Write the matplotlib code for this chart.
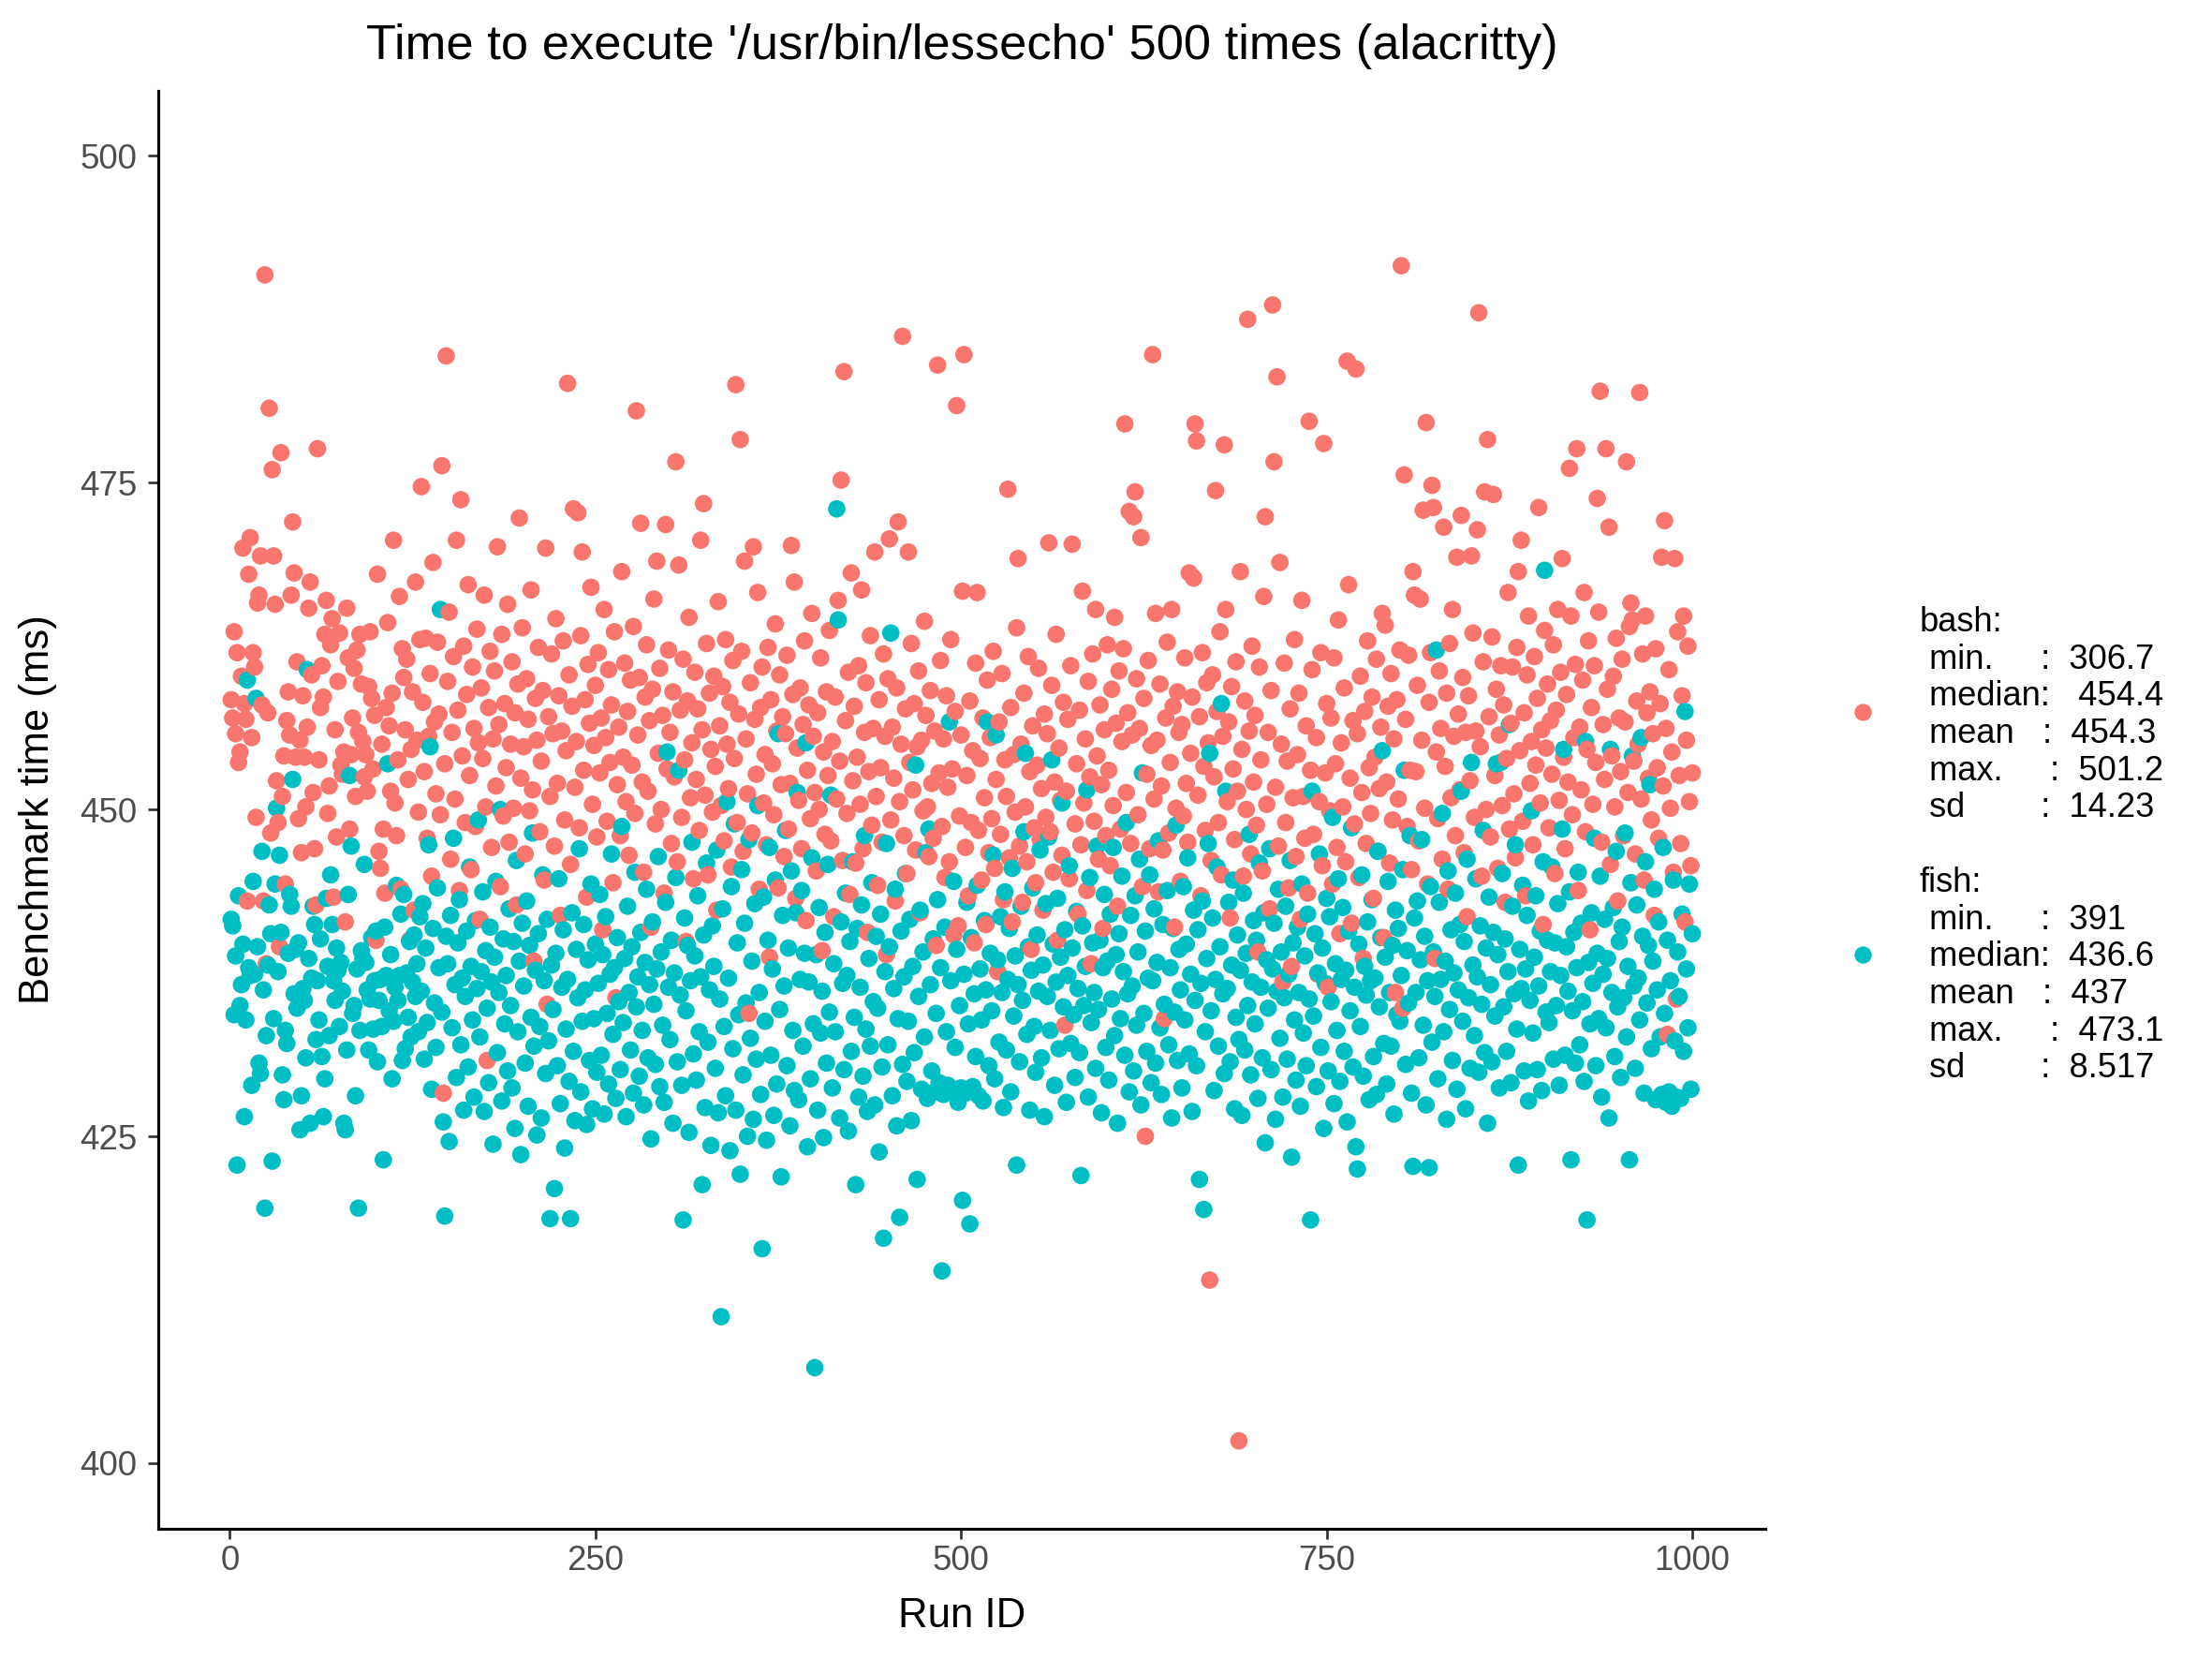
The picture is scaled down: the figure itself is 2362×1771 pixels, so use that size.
import numpy as np
import matplotlib
matplotlib.use("Agg")
import matplotlib.pyplot as plt
from matplotlib.lines import Line2D

plt.rcParams['font.family'] = ['Liberation Sans', 'DejaVu Sans']

# benchmark results, ms, one value per run id
bash_ms = [
    458.4, 457.0, 463.6, 455.8, 462.0, 453.6, 454.4, 460.2, 470.0, 458.1,
    456.9, 443.0, 468.0, 470.8, 455.5, 462.0, 460.9, 449.4, 465.8, 466.4,
    469.4, 458.0, 443.0, 490.9, 438.2, 457.4, 480.7, 448.2, 476.0, 469.4,
    465.7, 452.2, 449.0, 439.5, 477.3, 451.0, 454.1, 444.3, 456.8, 459.0,
    455.7, 466.4, 472.0, 468.1, 454.0, 461.3, 449.3, 455.3, 446.7, 458.7,
    454.0, 450.2, 456.3, 465.4, 467.4, 460.3, 451.3, 447.0, 442.7, 477.6,
    453.8, 457.8, 461.0, 458.6, 463.4, 466.0, 449.7, 451.8, 462.6, 464.6,
    443.3, 456.1, 447.9, 459.8, 463.5, 453.4, 452.7, 454.4, 441.4, 465.4,
    461.6, 448.5, 454.2, 457.0, 460.8, 451.0, 462.2, 455.9, 463.4, 459.6,
    455.2, 452.5, 454.2, 451.4, 459.4, 463.6, 458.5, 453.1, 457.2, 440.0,
    468.0, 446.8, 445.5, 455.0, 448.5, 443.6, 457.8, 464.3, 456.4, 451.4,
    458.9, 470.6, 450.5, 448.0, 453.8, 466.3, 443.9, 462.3, 460.1, 456.1,
    461.5, 452.3, 440.0, 454.6, 459.0, 442.3, 467.4, 455.3, 449.8, 463.0,
    474.7, 458.2, 452.9, 463.1, 447.8, 455.6, 460.4, 444.9, 468.9, 456.7,
    451.2, 462.8, 457.3, 449.6, 476.3, 428.3, 453.5, 484.7, 459.8, 465.1,
    446.2, 455.9, 461.7, 450.8, 470.6, 457.6, 443.8, 473.7, 454.1, 462.5,
    449.0, 458.8, 467.2, 452.6, 445.4, 460.9, 456.2, 448.7, 463.8, 455.1,
    441.6, 459.3, 453.9, 466.4, 450.2, 430.8, 457.8, 462.1, 447.1, 455.4,
    460.6, 451.8, 470.1, 456.5, 444.1, 463.4, 449.5, 458.1, 453.2, 465.7,
    447.5, 455.0, 461.3, 450.1, 457.4, 442.7, 459.6, 472.3, 452.4, 463.9,
    454.8, 446.6, 460.0, 456.9, 449.9, 466.8, 451.5, 438.4, 458.5, 455.3,
    462.4, 448.3, 453.7, 459.1, 444.6, 470.0, 435.1, 457.1, 451.0, 461.9,
    455.8, 447.2, 464.6, 452.0, 458.7, 441.9, 456.0, 462.9, 449.2, 454.5,
    482.6, 460.3, 445.8, 457.9, 473.0, 451.7, 455.2, 472.7, 448.6, 463.3,
    469.7, 453.0, 458.4, 443.3, 461.1, 456.6, 467.0, 450.4, 454.9, 459.5,
    447.9, 462.0, 452.8, 457.0, 440.8, 465.3, 455.5, 449.1, 460.7, 453.6,
    458.0, 444.4, 463.6, 435.6, 451.9, 456.3, 448.0, 468.2, 454.0, 461.2,
    450.6, 457.5, 446.5, 459.9, 453.4, 464.0, 449.7, 480.5, 455.7, 460.1,
    471.9, 452.1, 445.2, 458.6, 462.6, 451.4, 456.8, 441.0, 459.2, 466.1,
    448.9, 469.0, 454.3, 460.8, 450.0, 457.2, 443.6, 471.8, 453.1, 462.2,
    455.9, 447.4, 459.0, 452.5, 476.6, 446.0, 468.7, 457.6, 449.4, 461.5,
    453.8, 439.9, 458.3, 464.7, 450.9, 455.1, 444.7, 460.5, 452.3, 457.7,
    448.4, 470.6, 456.1, 473.4, 451.1, 462.7, 445.0, 458.9, 454.6, 449.8,
    460.2, 453.3, 442.3, 465.9, 456.4, 450.3, 459.4, 447.6, 463.0, 455.0,
    451.6, 458.2, 445.6, 461.4, 453.9, 482.5, 449.0, 457.3, 478.3, 462.1,
    446.8, 469.0, 455.4, 451.2, 434.4, 459.7, 448.2, 470.1, 456.9, 452.7,
    466.6, 443.9, 457.8, 460.9, 450.5, 454.2, 447.3, 462.4, 438.7, 458.4,
    453.5, 449.6, 464.2, 456.0, 444.0, 460.3, 451.9, 457.1, 446.4, 455.8,
    461.8, 448.5, 452.0, 470.2, 458.8, 467.4, 443.2, 454.7, 450.7, 459.3,
    447.0, 456.5, 462.9, 441.5, 453.0, 458.0, 449.3, 465.0, 455.6, 451.3,
    445.3, 457.4, 450.0, 461.6, 439.2, 454.4, 448.1, 459.0, 452.6, 463.7,
    447.6, 455.2, 441.8, 458.6, 450.8, 466.0, 453.7, 475.2, 446.1, 483.5,
    456.8, 449.7, 460.5, 443.5, 468.1, 452.2, 457.9, 445.9, 454.0, 461.0,
    450.4, 466.8, 447.0, 455.9, 459.7, 440.6, 452.9, 463.3, 448.8, 456.2,
    469.7, 451.0, 444.2, 458.4, 453.2, 447.5, 461.9, 455.6, 438.9, 460.0,
    470.7, 449.2, 456.3, 452.4, 443.0, 459.3, 472.0, 450.6, 455.0, 486.2,
    448.0, 457.7, 445.1, 469.7, 453.6, 462.7, 451.5, 458.1, 446.9, 454.8,
    460.6, 442.1, 455.3, 449.9, 464.4, 457.2, 450.2, 446.4, 459.1, 452.0,
    447.8, 456.0, 439.6, 484.0, 452.8, 461.4, 448.7, 455.4, 444.8, 458.7,
    451.7, 446.0, 463.0, 453.1, 440.4, 457.5, 480.9, 441.1, 449.5, 455.7,
    466.7, 484.8, 447.1, 452.6, 443.4, 458.3, 449.0, 454.5, 439.8, 461.2,
    466.6, 448.4, 453.9, 444.6, 457.0, 450.9, 441.2, 459.9, 446.7, 455.5,
    449.3, 462.1, 445.5, 452.3, 437.6, 456.7, 448.1, 460.4, 443.1, 453.8,
    451.0, 474.5, 446.3, 457.8, 441.4, 454.2, 449.8, 463.9, 469.2, 447.2,
    455.0, 442.9, 458.9, 450.2, 446.0, 461.7, 452.9, 439.3, 456.4, 448.6,
    444.4, 453.4, 460.8, 447.7, 451.6, 442.3, 457.3, 449.4, 455.8, 470.4,
    448.3, 459.5, 445.2, 452.1, 463.4, 440.0, 454.7, 450.7, 446.5, 458.2,
    433.5, 451.4, 456.9, 444.7, 461.0, 470.3, 306.7, 448.9, 453.5, 442.0,
    457.6, 447.3, 466.7, 450.5, 455.4, 443.8, 459.8, 452.5, 438.2, 461.9,
    449.1, 465.3, 454.1, 446.2, 458.0, 451.9, 440.9, 456.1, 448.0, 462.6,
    453.0, 445.7, 459.2, 450.3, 464.7, 456.6, 442.6, 460.6, 448.5, 455.2,
    462.3, 479.5, 451.3, 457.4, 472.8, 447.4, 455.7, 472.4, 474.3, 460.0,
    449.6, 456.2, 470.8, 444.1, 458.5, 425.0, 452.7, 461.4, 447.0, 454.9,
    484.8, 450.8, 465.0, 455.3, 443.7, 459.6, 451.8, 446.9, 434.0, 457.0,
    462.8, 448.2, 453.6, 465.3, 457.9, 441.0, 450.1, 459.0, 455.9, 444.5,
    456.5, 449.5, 461.6, 452.0, 447.5, 468.1, 454.3, 458.6, 467.7, 479.5,
    478.2, 451.1, 457.1, 443.4, 462.0, 453.3, 448.4, 459.7, 455.1, 414.0,
    446.1, 460.3, 452.5, 474.4, 457.5, 449.0, 463.6, 445.0, 455.6, 477.9,
    465.3, 450.6, 456.7, 441.7, 459.4, 453.1, 447.7, 461.3, 451.4, 401.7,
    468.2, 454.6, 444.9, 458.3, 450.0, 487.5, 456.0, 446.6, 462.5, 452.1,
    457.2, 448.8, 439.1, 460.9, 453.8, 445.3, 466.3, 472.4, 450.4, 455.9,
    442.4, 459.1, 488.6, 476.6, 451.7, 483.1, 447.2, 468.9, 455.0, 436.8,
    461.2, 449.0, 453.7, 444.0, 457.7, 438.0, 450.9, 463.0, 446.4, 454.2,
    458.9, 441.6, 466.0, 451.0, 447.8, 456.4, 443.6, 479.7, 453.0, 460.7,
    448.1, 501.2, 455.5, 437.4, 450.6, 462.0, 445.7, 478.0, 452.8, 458.1,
    436.4, 449.9, 457.0, 444.3, 461.6, 453.5, 447.1, 464.5, 440.5, 455.1,
    450.2, 459.3, 446.0, 484.3, 467.2, 452.4, 441.3, 456.8, 448.9, 483.7,
    455.8, 444.8, 460.2, 451.3, 438.6, 457.5, 447.4, 462.9, 453.2, 449.7,
    458.6, 443.2, 454.0, 461.5, 446.8, 451.6, 456.3, 465.0, 440.2, 464.1,
    452.1, 457.9, 445.9, 460.4, 449.2, 455.4, 436.0, 458.4, 450.8, 462.2,
    491.6, 434.8, 475.6, 456.9, 448.7, 461.8, 453.0, 445.4, 468.2, 466.4,
    452.9, 459.5, 447.6, 466.1, 455.3, 472.9, 450.1, 479.6, 444.3, 458.2,
    462.0, 474.8, 473.1, 438.6, 454.4, 449.3, 460.6, 456.2, 446.2, 471.6,
    453.3, 458.9, 443.9, 462.7, 450.9, 465.3, 455.6, 448.0, 469.3, 457.3,
    451.5, 472.5, 460.1, 446.7, 455.9, 441.8, 458.7, 452.2, 469.4, 463.5,
    449.4, 456.0, 471.4, 488.0, 454.8, 444.9, 461.3, 474.3, 450.0, 478.3,
    457.1, 447.9, 463.2, 474.1, 452.6, 459.2, 445.5, 455.7, 461.0, 450.3,
    458.0, 442.9, 453.9, 466.6, 448.5, 456.6, 460.9, 451.2, 446.3, 462.4,
    468.2, 454.5, 470.6, 449.1, 457.4, 443.4, 460.3, 464.8, 452.0, 455.2,
    447.3, 461.7, 453.4, 458.5, 473.1, 450.5, 456.1, 441.2, 463.7, 454.7,
    459.6, 448.6, 456.8, 452.7, 462.6, 445.1, 457.6, 465.3, 450.7, 460.5,
    469.2, 454.0, 447.0, 458.8, 452.1, 476.1, 464.8, 449.6, 455.5, 461.1,
    477.6, 443.8, 456.3, 451.5, 459.9, 466.6, 448.3, 454.6, 462.9, 440.8,
    457.8, 450.4, 461.0, 453.6, 473.8, 465.1, 482.0, 447.5, 456.5, 452.3,
    477.6, 459.2, 471.6, 445.8, 454.1, 460.2, 450.2, 463.1, 443.0, 457.0,
    452.9, 461.5, 448.0, 456.7, 476.6, 451.3, 464.0, 465.8, 464.5, 453.7,
    446.6, 458.3, 455.0, 481.9, 450.8, 461.9, 444.6, 464.8, 457.4, 452.4,
    459.0, 449.2, 455.8, 441.9, 462.3, 453.2, 447.8, 458.1, 469.3, 451.8,
    472.1, 456.2, 432.8, 460.7, 450.1, 454.4, 445.2, 469.2, 435.5, 463.6,
    452.6, 447.4, 458.7, 464.8, 441.4, 455.3, 462.5, 450.6, 445.7, 452.8,
]

fish_ms = [
    441.6, 441.1, 434.3, 438.8, 422.8, 443.4, 435.0, 436.6, 439.7, 426.5,
    433.9, 459.9, 437.9, 437.3, 428.9, 444.5, 437.4, 458.5, 439.5, 430.6,
    429.8, 446.8, 436.2, 419.5, 432.7, 438.1, 442.7, 440.5, 423.1, 434.0,
    444.3, 450.1, 437.6, 446.5, 440.6, 429.7, 427.8, 433.1, 432.1, 439.0,
    443.5, 442.6, 452.3, 435.9, 439.3, 434.8, 439.8, 425.5, 428.1, 436.3,
    435.4, 431.0, 460.7, 438.6, 426.0, 437.1, 442.6, 441.2, 432.4, 436.9,
    433.9, 440.1, 431.1, 426.5, 429.4, 443.2, 438.0, 432.7, 445.0, 441.2,
    436.9, 435.4, 439.4, 437.7, 433.4, 438.3, 436.1, 426.0, 425.5, 431.6,
    443.5, 452.6, 447.2, 434.4, 435.0, 428.1, 437.8, 419.5, 433.1, 439.2,
    438.6, 445.8, 438.3, 436.2, 431.6, 435.5, 440.2, 433.2, 436.9, 440.7,
    430.7, 435.4, 437.0, 433.4, 423.2, 441.0, 437.3, 453.5, 434.6, 438.9,
    429.4, 433.8, 436.4, 444.2, 435.4, 437.3, 442.0, 430.8, 443.5, 431.7,
    437.5, 434.1, 439.9, 432.6, 436.8, 440.4, 435.7, 438.2, 433.0, 441.8,
    436.1, 442.8, 430.9, 439.4, 433.7, 447.3, 454.8, 428.6, 440.9, 435.2,
    431.8, 444.0, 437.9, 465.3, 434.5, 426.1, 418.9, 440.3, 438.2, 424.6,
    441.9, 433.3, 447.8, 436.6, 429.5, 439.8, 443.1, 432.0, 437.1, 427.0,
    435.7, 440.7, 430.3, 445.6, 438.0, 433.9, 428.0, 441.5, 436.3, 449.2,
    432.6, 437.6, 443.7, 426.9, 439.2, 434.8, 429.1, 441.0, 436.8, 424.4,
    438.7, 444.5, 431.4, 436.0, 450.0, 427.7, 440.1, 433.6, 437.3, 430.0,
    442.4, 435.0, 428.7, 439.9, 425.6, 446.1, 433.0, 438.4, 423.6, 441.3,
    436.5, 430.6, 443.0, 427.3, 439.6, 434.1, 448.2, 431.9, 437.7, 425.1,
    440.5, 433.4, 426.4, 445.0, 436.9, 429.8, 441.6, 432.3, 418.7, 438.1,
    434.7, 421.0, 439.0, 430.4, 444.7, 427.5, 436.4, 440.8, 424.1, 433.2,
    437.0, 429.2, 418.7, 442.1, 431.5, 426.2, 439.3, 435.6, 447.0, 428.4,
    433.8, 441.2, 436.2, 425.9, 438.5, 430.8, 444.3, 427.1, 434.0, 439.7,
    429.9, 436.7, 443.5, 431.2, 438.9, 426.7, 441.8, 434.4, 429.0, 437.4,
    446.6, 432.8, 437.9, 427.9, 440.2, 435.3, 430.1, 448.7, 433.7, 438.6,
    426.5, 442.6, 436.0, 431.6, 439.5, 428.3, 445.2, 434.9, 437.2, 429.6,
    440.6, 433.1, 427.4, 438.3, 443.9, 431.0, 436.6, 424.8, 441.4, 435.1,
    430.5, 437.8, 446.4, 428.8, 439.1, 433.5, 427.6, 442.9, 454.4, 436.4,
    432.4, 440.0, 426.0, 437.5, 444.8, 430.7, 453.0, 435.8, 428.9, 418.6,
    441.7, 434.6, 439.6, 425.3, 436.9, 447.5, 431.3, 438.8, 429.3, 443.4,
    433.0, 437.2, 421.3, 440.4, 427.2, 445.9, 432.2, 436.2, 424.3, 441.1,
    438.0, 430.2, 446.9, 426.8, 435.5, 411.2, 442.4, 433.4, 428.1, 450.6,
    437.1, 423.9, 444.1, 431.7, 448.9, 427.0, 439.8, 434.3, 422.1, 445.4,
    429.7, 441.3, 435.2, 425.0, 447.7, 432.5, 438.4, 426.3, 442.8, 430.9,
    450.3, 436.0, 428.2, 416.4, 443.3, 433.8, 424.7, 440.0, 447.1, 431.2,
    437.8, 426.6, 444.6, 429.0, 455.8, 434.7, 421.9, 441.9, 436.5, 448.4,
    430.4, 439.4, 425.8, 445.3, 433.1, 428.5, 442.1, 451.3, 427.8, 437.0,
    443.8, 431.9, 439.0, 455.1, 424.2, 436.8, 429.4, 446.3, 433.6, 407.3,
    438.9, 427.0, 442.5, 432.9, 436.1, 424.9, 440.6, 430.6, 445.8, 434.5,
    451.1, 428.7, 438.2, 433.0, 473.0, 464.5, 426.4, 441.4, 436.7, 430.1,
    443.6, 437.3, 425.4, 439.9, 431.5, 446.0, 434.1, 421.3, 440.9, 428.0,
    436.4, 442.7, 429.6, 448.0, 433.2, 426.9, 438.6, 431.9, 444.4, 435.3,
    427.4, 440.3, 434.8, 423.8, 442.0, 430.3, 417.2, 437.6, 447.4, 432.0,
    439.5, 463.5, 428.1, 436.3, 443.9, 425.8, 434.0, 418.8, 440.7, 430.5,
    437.2, 445.1, 429.2, 433.8, 441.6, 426.2, 438.0, 431.4, 453.4, 421.7,
    435.7, 442.3, 428.6, 439.1, 432.6, 446.7, 427.9, 448.5, 436.6, 430.0,
    440.1, 428.4, 434.4, 443.1, 429.1, 437.9, 414.7, 428.2, 441.0, 433.0,
    428.9, 456.7, 436.9, 428.5, 444.5, 431.8, 439.3, 427.6, 435.0, 428.7,
    420.1, 437.4, 428.3, 442.9, 433.6, 418.3, 440.2, 428.8, 435.9, 431.1,
    444.2, 428.1, 437.8, 433.9, 427.7, 441.5, 436.2, 456.7, 430.4, 439.0,
    434.6, 446.5, 429.4, 455.7, 438.5, 432.2, 441.8, 436.0, 427.2, 443.7,
    431.6, 437.0, 440.9, 428.4, 445.5, 434.2, 438.8, 422.8, 436.6, 430.7,
    442.6, 435.4, 448.3, 454.3, 432.8, 439.5, 427.0, 437.7, 444.0, 433.4,
    429.9, 440.4, 436.1, 446.9, 431.0, 438.1, 426.5, 442.8, 435.7, 447.9,
    433.1, 453.8, 439.7, 428.9, 436.8, 443.2, 431.7, 438.7, 450.5, 434.9,
    440.8, 427.6, 437.3, 445.7, 432.1, 439.4, 434.3, 429.5, 442.2, 436.3,
    431.4, 422.0, 441.1, 435.0, 438.0, 451.5, 428.0, 444.8, 433.7, 439.8,
    436.0, 430.2, 447.2, 434.7, 440.0, 426.8, 437.9, 443.5, 431.8, 438.4,
    429.3, 442.0, 435.5, 447.1, 432.7, 438.9, 426.0, 440.5, 434.0, 444.9,
    437.6, 431.2, 449.0, 435.9, 428.4, 441.9, 436.5, 430.0, 443.4, 433.5,
    439.1, 446.2, 427.4, 452.8, 434.4, 440.7, 431.5, 437.1, 445.0, 429.1,
    436.9, 442.4, 430.6, 438.3, 447.6, 433.3, 428.2, 441.2, 435.1, 391.0,
    443.8, 432.0, 437.9, 426.4, 440.9, 434.5, 448.8, 430.8, 439.3, 436.2,
    428.7, 444.1, 433.9, 439.7, 446.3, 431.3, 437.4, 426.9, 442.3, 435.4,
    430.4, 440.8, 421.7, 436.7, 443.0, 419.4, 433.0, 438.6, 447.4, 454.3,
    434.6, 441.7, 428.5, 437.0, 445.6, 431.9, 439.5, 458.1, 435.9, 429.8,
    451.4, 436.3, 442.9, 430.7, 438.1, 444.6, 427.1, 434.1, 440.4, 432.4,
    437.7, 426.6, 443.6, 431.6, 439.0, 435.0, 448.1, 429.7, 436.8, 441.5,
    433.6, 440.0, 427.9, 445.9, 436.4, 431.0, 442.1, 424.5, 438.5, 434.8,
    447.0, 430.1, 437.8, 441.3, 426.3, 436.1, 443.9, 432.5, 439.1, 428.0,
    435.6, 442.6, 430.9, 437.4, 446.1, 423.4, 439.8, 433.9, 429.3, 441.0,
    436.0, 427.3, 444.3, 432.9, 438.8, 430.4, 442.0, 435.5, 418.6, 451.4,
    434.2, 440.5, 428.8, 437.5, 446.6, 431.8, 439.4, 425.6, 436.7, 443.2,
    430.0, 441.8, 435.3, 449.4, 427.5, 438.2, 433.1, 444.7, 429.2, 437.0,
    442.5, 431.5, 437.7, 426.1, 440.7, 434.6, 448.6, 430.3, 436.4, 424.2,
    422.5, 439.7, 433.4, 445.0, 429.6, 438.0, 435.8, 441.4, 427.8, 436.9,
    443.1, 431.1, 437.1, 428.2, 446.8, 434.9, 440.2, 454.5, 432.1, 438.7,
    429.0, 444.5, 436.0, 431.9, 439.6, 426.7, 442.3, 434.3, 440.9, 433.8,
    437.3, 445.4, 453.0, 430.5, 439.2, 435.2, 448.0, 428.3, 422.7, 441.7,
    436.0, 443.0, 431.0, 438.5, 447.7, 433.5, 440.3, 427.4, 436.9, 422.6,
    444.1, 432.2, 439.1, 435.7, 462.2, 429.4, 442.9, 437.0, 449.7, 433.0,
    438.4, 426.3, 445.3, 434.7, 440.8, 430.8, 437.5, 443.6, 428.6, 436.2,
    441.2, 451.4, 433.8, 439.9, 427.1, 446.2, 435.6, 430.2, 453.6, 438.1,
    432.7, 444.7, 437.2, 429.9, 441.1, 435.1, 448.4, 431.4, 439.4, 426.0,
    443.3, 436.6, 430.7, 440.6, 434.2, 453.5, 438.9, 428.7, 453.6, 445.1,
    434.9, 440.1, 431.5, 437.6, 456.5, 429.1, 442.6, 435.9, 447.3, 433.2,
    422.8, 439.3, 436.3, 444.2, 430.0, 437.8, 441.9, 427.7, 435.4, 449.9,
    432.9, 438.7, 443.4, 430.1, 436.5, 440.7, 428.5, 446.0, 468.3, 434.5,
    440.0, 433.7, 437.6, 445.6, 430.9, 439.8, 435.0, 442.8, 428.9, 437.3,
    448.5, 454.6, 431.2, 439.5, 436.1, 443.7, 423.2, 434.6, 440.6, 430.6,
    437.9, 445.2, 432.0, 441.3, 435.3, 429.2, 455.2, 418.6, 438.3, 433.6,
    442.1, 436.7, 447.8, 430.4, 439.0, 434.0, 444.9, 428.0, 437.4, 441.6,
    433.3, 438.6, 426.4, 454.6, 436.0, 442.5, 431.1, 446.8, 434.9, 439.9,
    429.5, 441.0, 435.6, 448.2, 432.6, 438.0, 423.2, 444.4, 454.1, 436.5,
    430.2, 442.7, 437.1, 433.9, 455.5, 440.3, 428.3, 446.0, 435.2, 439.6,
    451.9, 431.7, 438.4, 443.9, 427.8, 436.2, 441.4, 432.6, 428.2, 447.1,
    434.4, 427.6, 440.0, 428.4, 436.9, 427.3, 444.6, 432.3, 428.0, 439.1,
    435.7, 427.9, 442.0, 431.5, 457.5, 437.8, 433.3, 444.3, 428.6, 440.5,
]

shells = ["bash", "fish"]
colors = {"bash": "#F8766D", "fish": "#00BFC4"}
legend_lines = {
    "bash": ["bash:", " min.     :  306.7", " median:   454.4", " mean   :  454.3",
             " max.     :  501.2", " sd        :  14.23"],
    "fish": ["fish:", " min.     :  391", " median:  436.6", " mean   :  437",
             " max.     :  473.1", " sd        :  8.517"],
}
x_ticks = [0, 250, 500, 750, 1000]
y_ticks = [400, 425, 450, 475, 500]
y_limits = (400, 500)

bash = np.array(bash_ms)
fish = np.array(fish_ms)
run_id = np.arange(1, len(bash) + 1)

# interleave the two shells so that neither is always on top
xs = np.column_stack([run_id, run_id]).ravel()
ys = np.column_stack([bash, fish]).ravel()
cs = np.array([colors["bash"], colors["fish"]] * len(bash))
keep = (ys >= y_limits[0]) & (ys <= y_limits[1])   # like ylim() in ggplot, drops the rest

W, H = 2362, 1771
fig = plt.figure(figsize=(W / 300, H / 300), dpi=300)
ax = fig.add_axes([0.0715, 0.0787, 0.7266, 0.8667])
ax.scatter(xs[keep], ys[keep], s=20, c=cs[keep], linewidths=0, zorder=3)

ax.set_xlim(-48.95, 1049.95)
ax.set_ylim(395, 505)
ax.set_xticks(x_ticks)
ax.set_yticks(y_ticks)
for side in ["top", "right"]:
    ax.spines[side].set_visible(False)
for side in ["left", "bottom"]:
    ax.spines[side].set_linewidth(0.75)
ax.tick_params(length=2.75, width=0.65, color="#333333", labelsize=8.8,
               labelcolor="#4D4D4D")
ax.tick_params(axis="x", pad=1.4)
ax.tick_params(axis="y", pad=2.6)

fig.text(0.4348, 1 - 63 / H, "Time to execute '/usr/bin/lessecho' 500 times (alacritty)",
         ha="center", va="baseline", fontsize=12.6)
fig.text(0.4348, 1 - 1737 / H, "Run ID", ha="center", va="baseline", fontsize=10.5)
fig.text(0.0172, 0.512, "Benchmark time (ms)", ha="center", va="center",
         rotation=90, fontsize=10.5)

# legend, laid out by hand (positions in pixels of the 2362x1771 image)
key_y = {"bash": 760, "fish": 1019}
first_base = {"bash": 674, "fish": 952}
for sh in shells:
    fig.add_artist(Line2D([1989 / W], [1 - key_y[sh] / H], transform=fig.transFigure,
                          marker="o", markersize=4.4, markeredgewidth=0,
                          linestyle="none", color=colors[sh]))
    for i, line in enumerate(legend_lines[sh]):
        fig.text(2050 / W, 1 - (first_base[sh] + 39.7 * i) / H, line,
                 ha="left", va="baseline", fontsize=8.7)

fig.savefig("out.png", dpi=300)
